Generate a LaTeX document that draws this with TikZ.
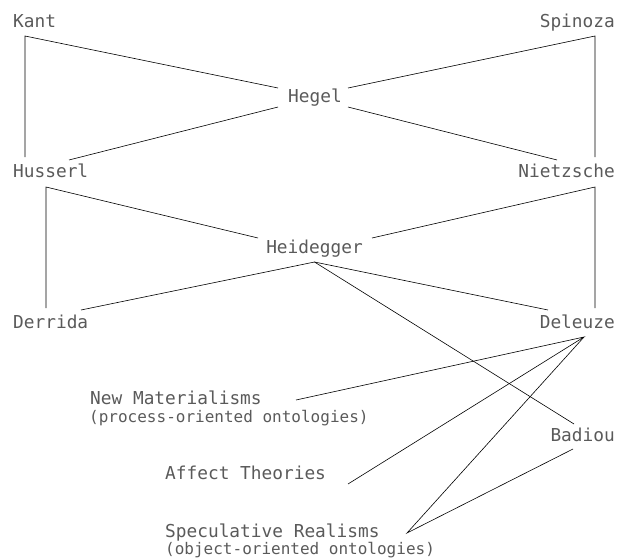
\documentclass[tikz,border=0pt]{standalone}
\usepackage{fontspec}
\newfontfamily\monofont{DejaVu Sans Mono}
\definecolor{txtgray}{HTML}{5A5A5A}
\tikzset{
  thinker/.style={text=txtgray, inner sep=0pt, font=\monofont\fontsize{17.8}{20}\selectfont},
  gloss/.style={text=txtgray, inner sep=0pt, font=\monofont\fontsize{16}{18}\selectfont},
  link/.style={line width=0.6pt}
}

\begin{document}
\begin{tikzpicture}[x=1pt,y=1pt]
\useasboundingbox (0,0) rectangle (617,558);
% thinkers
\node[thinker, anchor=base west] (kant) at (13,530.5) {Kant};
\node[thinker, anchor=base east] (spinoza) at (615,530.5) {Spinoza};
\node[thinker, anchor=base] (hegel) at (315,455) {Hegel};
\node[thinker, anchor=base west] (husserl) at (13,381) {Husserl};
\node[thinker, anchor=base east] (nietzsche) at (615,381) {Nietzsche};
\node[thinker, anchor=base] (heidegger) at (314.5,305) {Heidegger};
\node[thinker, anchor=base west] (derrida) at (13,230) {Derrida};
\node[thinker, anchor=base east] (deleuze) at (615,230) {Deleuze};
\node[thinker, anchor=base east] (badiou) at (615,117) {Badiou};
% currents
\node[thinker, anchor=base west] (newmat) at (90,154) {New Materialisms};
\node[gloss, anchor=base west] (newmatsub) at (89,136) {(process-oriented ontologies)};
\node[thinker, anchor=base west] (affect) at (165,79) {Affect Theories};
\node[thinker, anchor=base west] (specreal) at (165,21) {Speculative Realisms};
\node[gloss, anchor=base west] (specrealsub) at (165,4) {(object-oriented ontologies)};

% corners where several lines meet
\coordinate (kantfoot) at ([xshift=12pt,yshift=-8.5pt]kant.base west);
\coordinate (spinozafoot) at ([xshift=-20pt,yshift=-8.5pt]spinoza.base east);
\coordinate (husserlfoot) at ([xshift=33pt,yshift=-10pt]husserl.base west);
\coordinate (nietzschefoot) at ([xshift=-20pt,yshift=-10pt]nietzsche.base east);
\coordinate (heideggerfoot) at ([yshift=-9pt]heidegger.base);
\coordinate (deleuzefoot) at ([xshift=-31pt,yshift=-9pt]deleuze.base east);
\coordinate (specrealtip) at ([xshift=242pt,yshift=4pt]specreal.base west);

\draw[link] ([xshift=12pt,yshift=20pt]husserl.base west) -- (kantfoot)
            -- ([xshift=-37pt,yshift=15pt]hegel.base);
\draw[link] ([xshift=-37pt,yshift=-4pt]hegel.base) -- ([xshift=56pt,yshift=17pt]husserl.base west);
\draw[link] ([xshift=-20pt,yshift=20pt]nietzsche.base east) -- (spinozafoot)
            -- ([xshift=33pt,yshift=15pt]hegel.base);
\draw[link] ([xshift=33pt,yshift=-4pt]hegel.base) -- ([xshift=-58pt,yshift=17pt]nietzsche.base east);

\draw[link] ([xshift=33pt,yshift=20pt]derrida.base west) -- (husserlfoot)
            -- ([xshift=-56.5pt,yshift=15pt]heidegger.base);
\draw[link] ([xshift=-20pt,yshift=20pt]deleuze.base east) -- (nietzschefoot)
            -- ([xshift=57.5pt,yshift=15pt]heidegger.base);
\draw[link] ([xshift=68pt,yshift=18pt]derrida.base west) -- (heideggerfoot)
            -- ([xshift=-67pt,yshift=18pt]deleuze.base east);
\draw[link] (heideggerfoot) -- ([xshift=-41pt,yshift=17pt]badiou.base east);

\draw[link] ([xshift=206pt,yshift=4pt]newmat.base west) -- (deleuzefoot)
            -- ([xshift=183pt,yshift=-5pt]affect.base west);
\draw[link] (deleuzefoot) -- (specrealtip)
            -- ([xshift=-42pt,yshift=-8pt]badiou.base east);
\end{tikzpicture}
\end{document}
